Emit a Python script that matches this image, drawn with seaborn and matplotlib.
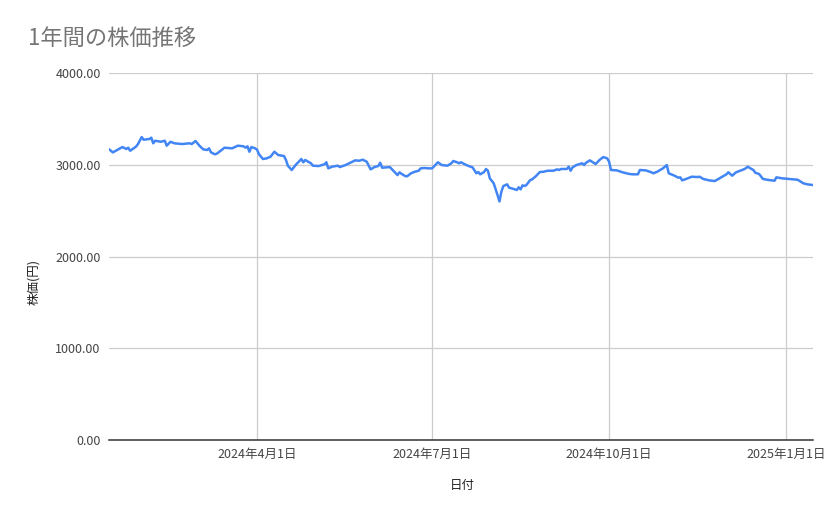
import pandas as pd
import matplotlib
matplotlib.use("Agg")
import matplotlib.pyplot as plt
import matplotlib.dates as mdates
from matplotlib.ticker import FuncFormatter
import seaborn as sns

# 日付と株価
dates = [
    "2024-01-15", "2024-01-17", "2024-01-20", "2024-01-22", "2024-01-24", "2024-01-25",
    "2024-01-26", "2024-01-29", "2024-01-30", "2024-02-01", "2024-02-02", "2024-02-05",
    "2024-02-06", "2024-02-07", "2024-02-08", "2024-02-11", "2024-02-13", "2024-02-14",
    "2024-02-16", "2024-02-18", "2024-02-22", "2024-02-26", "2024-02-27", "2024-02-29",
    "2024-03-02", "2024-03-04", "2024-03-06", "2024-03-07", "2024-03-08", "2024-03-10",
    "2024-03-11", "2024-03-14", "2024-03-15", "2024-03-19", "2024-03-22", "2024-03-25",
    "2024-03-26", "2024-03-27", "2024-03-28", "2024-03-29", "2024-03-31", "2024-04-01",
    "2024-04-02", "2024-04-04", "2024-04-06", "2024-04-08", "2024-04-10", "2024-04-12",
    "2024-04-15", "2024-04-16", "2024-04-17", "2024-04-19", "2024-04-21", "2024-04-23",
    "2024-04-24", "2024-04-25", "2024-04-26", "2024-04-29", "2024-04-30", "2024-05-03",
    "2024-05-06", "2024-05-07", "2024-05-08", "2024-05-10", "2024-05-13", "2024-05-14",
    "2024-05-17", "2024-05-20", "2024-05-22", "2024-05-24", "2024-05-26", "2024-05-28",
    "2024-05-30", "2024-06-01", "2024-06-03", "2024-06-04", "2024-06-05", "2024-06-07",
    "2024-06-09", "2024-06-11", "2024-06-13", "2024-06-14", "2024-06-15", "2024-06-17",
    "2024-06-18", "2024-06-20", "2024-06-22", "2024-06-24", "2024-06-25", "2024-06-27",
    "2024-06-29", "2024-07-01", "2024-07-03", "2024-07-04", "2024-07-06", "2024-07-09",
    "2024-07-11", "2024-07-12", "2024-07-14", "2024-07-15", "2024-07-16", "2024-07-18",
    "2024-07-20", "2024-07-22", "2024-07-24", "2024-07-25", "2024-07-26", "2024-07-28",
    "2024-07-29", "2024-07-30", "2024-07-31", "2024-08-02", "2024-08-04", "2024-08-05",
    "2024-08-06", "2024-08-07", "2024-08-09", "2024-08-10", "2024-08-12", "2024-08-14",
    "2024-08-15", "2024-08-16", "2024-08-17", "2024-08-18", "2024-08-19", "2024-08-21",
    "2024-08-22", "2024-08-24", "2024-08-26", "2024-08-28", "2024-08-30", "2024-09-02",
    "2024-09-04", "2024-09-05", "2024-09-06", "2024-09-09", "2024-09-10", "2024-09-11",
    "2024-09-12", "2024-09-14", "2024-09-17", "2024-09-18", "2024-09-19", "2024-09-21",
    "2024-09-24", "2024-09-26", "2024-09-28", "2024-09-30", "2024-10-01", "2024-10-02",
    "2024-10-05", "2024-10-08", "2024-10-11", "2024-10-13", "2024-10-16", "2024-10-17",
    "2024-10-20", "2024-10-23", "2024-10-24", "2024-10-26", "2024-10-29", "2024-10-31",
    "2024-11-01", "2024-11-04", "2024-11-06", "2024-11-07", "2024-11-08", "2024-11-10",
    "2024-11-13", "2024-11-16", "2024-11-17", "2024-11-19", "2024-11-22", "2024-11-25",
    "2024-11-28", "2024-12-01", "2024-12-02", "2024-12-04", "2024-12-06", "2024-12-10",
    "2024-12-11", "2024-12-12", "2024-12-15", "2024-12-16", "2024-12-18", "2024-12-20",
    "2024-12-23", "2024-12-26", "2024-12-27", "2024-12-30", "2025-01-03", "2025-01-05",
    "2025-01-07", "2025-01-10", "2025-01-12", "2025-01-15",
]
prices = [
    3170, 3135, 3170, 3193, 3172, 3186,
    3153, 3197, 3223, 3302, 3273, 3281,
    3295, 3234, 3262, 3251, 3262, 3208,
    3251, 3234, 3226, 3234, 3226, 3259,
    3208, 3168, 3161, 3179, 3136, 3114,
    3120, 3168, 3186, 3179, 3208, 3201,
    3186, 3201, 3142, 3193, 3179, 3164,
    3114, 3063, 3070, 3088, 3142, 3106,
    3095, 3052, 2990, 2943, 2997, 3041,
    3063, 3027, 3052, 3016, 2990, 2986,
    3005, 3027, 2961, 2979, 2990, 2975,
    2997, 3027, 3048, 3044, 3055, 3033,
    2950, 2975, 2986, 3022, 2968, 2972,
    2975, 2932, 2888, 2918, 2902, 2877,
    2874, 2907, 2924, 2935, 2961, 2965,
    2961, 2961, 3005, 3027, 2997, 2990,
    3016, 3041, 3027, 3016, 3027, 3005,
    2986, 2972, 2907, 2921, 2896, 2921,
    2954, 2935, 2852, 2798, 2670, 2600,
    2706, 2768, 2787, 2750, 2739, 2725,
    2754, 2732, 2776, 2768, 2779, 2834,
    2841, 2877, 2921, 2924, 2935, 2935,
    2950, 2943, 2954, 2954, 2979, 2935,
    2972, 2997, 3016, 2997, 3022, 3048,
    3008, 3052, 3084, 3070, 3033, 2943,
    2939, 2918, 2902, 2896, 2896, 2943,
    2939, 2918, 2907, 2924, 2961, 2997,
    2907, 2881, 2859, 2863, 2830, 2845,
    2870, 2866, 2870, 2845, 2830, 2823,
    2859, 2896, 2918, 2881, 2918, 2950,
    2961, 2979, 2943, 2913, 2899, 2845,
    2834, 2826, 2863, 2852, 2845, 2841,
    2837, 2798, 2787, 2779,
]

df = pd.DataFrame({"日付": pd.to_datetime(dates), "株価": prices})

sns.set_style("white")
plt.rcParams['font.family'] = ['Noto Sans CJK JP', 'DejaVu Sans']

fig = plt.figure(figsize=(8.39, 5.19), dpi=100)
ax = fig.add_axes([0.1299, 0.1522, 0.8391, 0.7071])

sns.lineplot(data=df, x="日付", y="株価", ax=ax, color="#4285F4", linewidth=1.8)

ax.set_ylim(0, 4000)
ax.set_xlim(df["日付"].min(), df["日付"].max())
ax.set_yticks([0, 1000, 2000, 3000, 4000])
ax.yaxis.set_major_formatter(FuncFormatter(lambda v, p: f"{v:.2f}"))
ax.xaxis.set_major_locator(mdates.MonthLocator(bymonth=[1, 4, 7, 10]))
ax.xaxis.set_major_formatter(FuncFormatter(
    lambda v, p: f"{mdates.num2date(v).year}年{mdates.num2date(v).month}月{mdates.num2date(v).day}日"))

ax.grid(True, color="#cccccc", linewidth=0.9)
ax.set_axisbelow(True)
for s in ["top", "left", "right"]:
    ax.spines[s].set_visible(False)
ax.spines["bottom"].set_color("#333333")
ax.spines["bottom"].set_linewidth(1.1)
ax.tick_params(axis="both", length=0, labelsize=9, colors="#444444", pad=6)

ax.set_xlabel("")
ax.set_ylabel("")
fig.text(0.551, 0.064, "日付", fontsize=9, color="#222222", ha="center", va="center")
fig.text(0.04, 0.457, "株価(円)", fontsize=9, color="#222222", rotation=90, ha="center", va="center")
fig.text(0.033, 0.925, "1年間の株価推移", fontsize=16, color="#757575", ha="left", va="center")

fig.savefig("out.png", dpi=100)
